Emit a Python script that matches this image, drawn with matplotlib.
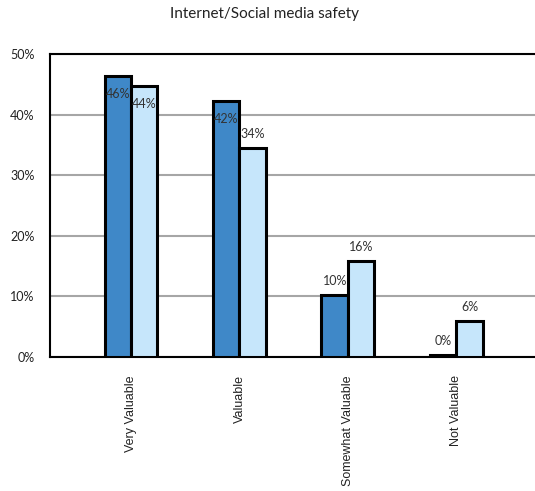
import matplotlib
matplotlib.use('Agg')
import matplotlib.pyplot as plt
import numpy as np

categories = ['Very Valuable', 'Valuable', 'Somewhat Valuable', 'Not Valuable']
series_a = [46.3, 42.3, 10.2, 0.3]
series_b = [44.7, 34.5, 15.8, 5.9]
labels_a = ['46%', '42%', '10%', '0%']
labels_b = ['44%', '34%', '16%', '6%']
yticks = [0, 10, 20, 30, 40, 50]

plt.rcParams['font.family'] = ['Lato', 'DejaVu Sans']

fig = plt.figure(figsize=(5.35, 4.91), dpi=100)
ax = fig.add_axes([50 / 535, 134 / 491, 1 - 50 / 535, 303 / 491])

x = np.arange(len(categories))
w = 0.244
bars_a = ax.bar(x - w / 2, series_a, w, color='#3f88c8', edgecolor='black', linewidth=2.2, zorder=3)
bars_b = ax.bar(x + w / 2, series_b, w, color='#c6e6fb', edgecolor='black', linewidth=2.2, zorder=3)

for bars, labels in [(bars_a, labels_a), (bars_b, labels_b)]:
    for b, lab in zip(bars, labels):
        h = b.get_height()
        off = -13 if h > 40 else 10
        ax.annotate(lab, (b.get_x() + b.get_width() / 2, h), xytext=(0, off),
                    textcoords='offset points', ha='center', va='center',
                    fontsize=9, color='#333333', zorder=4)

ax.set_xlim(-0.747, 3.725)
ax.set_ylim(0, 50)
ax.set_yticks(yticks)
ax.set_yticklabels([f'{t}%' for t in yticks], fontsize=9, color='#222222')
ax.set_xticks(x)
ax.set_xticklabels(categories, rotation=90, va='top', ha='center', fontsize=9,
                   family=['Liberation Sans'], color='#222222')
ax.tick_params(axis='both', length=0)
ax.tick_params(axis='y', pad=11)
ax.tick_params(axis='x', pad=13)
ax.yaxis.grid(True, color='#a6a6a6', linewidth=1.5, zorder=0)
for s in ['left', 'top', 'bottom']:
    ax.spines[s].set_linewidth(1.5)
    ax.spines[s].set_color('black')
ax.spines['right'].set_visible(False)

fig.text(265 / 535, 1 - 14 / 491, 'Internet/Social media safety', ha='center', va='center',
         fontsize=11, color='#222222')

plt.savefig('out.png')
plt.close()
